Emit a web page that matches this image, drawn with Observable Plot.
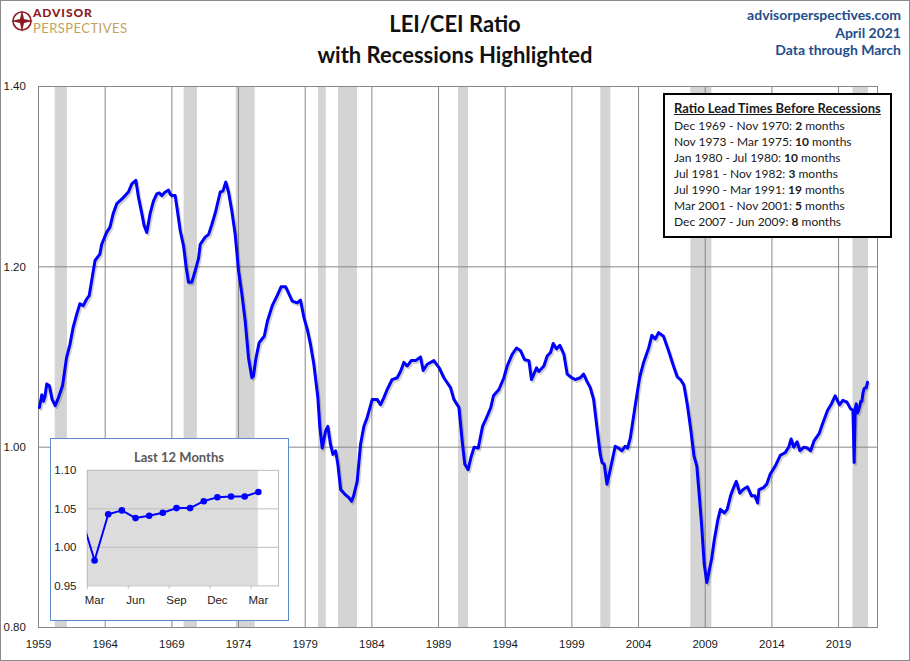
<!DOCTYPE html>
<html><head><meta charset="utf-8">
<script src="https://cdn.jsdelivr.net/npm/d3@7"></script>
<script src="https://cdn.jsdelivr.net/npm/@observablehq/plot@0.6"></script>
<style>
body{margin:0;background:#fff;}
#wrap{position:relative;width:910px;height:661px;overflow:hidden;font-family:Lato,"Open Sans",sans-serif;background:#fff;}
#frameBorder{position:absolute;left:0;top:0;width:910px;height:661px;box-sizing:border-box;border:1px solid #8c8c8c;pointer-events:none;z-index:20;}
#main{position:absolute;left:0;top:0;}
#title{position:absolute;left:0;width:910px;top:8px;text-align:center;font-weight:700;font-size:22px;line-height:31px;color:#111;}
#src{position:absolute;right:9px;top:6px;text-align:right;font-weight:700;font-size:14px;line-height:17.5px;color:#1f4e8c;}
#logoIcon{position:absolute;left:11px;top:10px;}
.la{position:absolute;left:33px;top:5px;font-weight:900;font-size:12px;line-height:15px;color:#8b1a22;letter-spacing:0.9px;white-space:nowrap;}
.lp{position:absolute;left:33px;top:20px;font-weight:400;font-size:13px;line-height:16px;color:#c3a15a;letter-spacing:0.45px;white-space:nowrap;}
#legend{position:absolute;left:663px;top:93px;width:229px;height:145px;box-sizing:border-box;border:2px solid #000;background:#fff;padding:4px 0 0 9px;font-size:12px;color:#1a1a1a;line-height:16px;z-index:5;}
#legend .h{font-weight:700;font-size:13px;text-decoration:underline;margin-bottom:1px;line-height:18px;}
#inset{position:absolute;left:50px;top:438px;width:239px;height:183px;box-sizing:border-box;border:1px solid #5b8ccb;background:#fff;z-index:5;}
#inset .t{position:absolute;left:0;width:100%;top:10px;text-align:center;font-weight:700;font-size:13px;color:#595959;padding-left:19px;box-sizing:border-box;}
#insetPlot{position:absolute;left:-1px;top:-1px;}
</style></head><body>
<div id="wrap">
  <div id="main"></div>
  <svg id="logoIcon" width="22" height="22" viewBox="0 0 22 22">
    <circle cx="11" cy="11" r="9" fill="none" stroke="#8b1a22" stroke-width="1.6"/>
    <polygon points="11,0 13,9 22,11 13,13 11,22 9,13 0,11 9,9" fill="#8b1a22"/>
  </svg>
  <div class="la">ADVISOR</div>
  <div class="lp">PERSPECTIVES</div>
  <div id="title">LEI/CEI Ratio<br>with Recessions Highlighted</div>
  <div id="src">advisorperspectives.com<br>April 2021<br>Data through March</div>
  <div id="legend"></div>
  <div id="inset"><div id="insetPlot"></div><div class="t">Last 12 Months</div></div>
  <div id="frameBorder"></div>
</div>
<script>
// ---------- data ----------
const years = [
1959.07,1959.25,1959.37,1959.48,1959.62,1959.82,1960.02,1960.25,1960.5,1960.8,
1961.1,1961.36,1961.6,1961.86,1962.1,1962.36,1962.6,1962.8,1962.98,1963.24,
1963.6,1963.74,1964.1,1964.36,1964.6,1964.87,1965.24,1965.5,1965.74,1966.0,
1966.3,1966.5,1966.75,1966.92,1967.12,1967.37,1967.62,1967.87,1968.05,1968.25,
1968.5,1968.75,1968.9,1969.0,1969.25,1969.38,1969.63,1969.88,1970.08,1970.25,
1970.5,1970.76,1971.0,1971.13,1971.5,1971.76,1972.0,1972.26,1972.63,1972.83,
1973.05,1973.25,1973.5,1973.75,1974.0,1974.25,1974.5,1974.75,1975.0,1975.12,
1975.3,1975.55,1975.93,1976.17,1976.53,1976.9,1977.2,1977.53,1978.03,1978.4,
1978.65,1978.9,1979.15,1979.4,1979.65,1979.95,1980.1,1980.28,1980.53,1980.7,
1980.9,1981.08,1981.28,1981.45,1981.66,1982.03,1982.28,1982.48,1982.65,1982.9,
1983.15,1983.4,1983.65,1984.03,1984.4,1984.65,1984.9,1985.15,1985.52,1985.9,
1986.15,1986.4,1986.65,1986.95,1987.28,1987.65,1987.85,1988.15,1988.65,1989.05,
1989.4,1989.9,1990.15,1990.53,1990.8,1990.97,1991.22,1991.42,1991.67,1991.98,
1992.3,1992.55,1992.92,1993.12,1993.53,1993.9,1994.15,1994.52,1994.85,1995.15,
1995.45,1995.78,1995.97,1996.35,1996.52,1996.9,1997.15,1997.4,1997.6,1997.85,
1998.1,1998.4,1998.65,1999.0,1999.25,1999.63,1999.88,2000.13,2000.38,2000.63,
2000.88,2001.13,2001.26,2001.43,2001.63,2001.88,2002.25,2002.5,2002.75,2003.0,
2003.18,2003.38,2003.76,2004.08,2004.38,2004.76,2005.0,2005.25,2005.5,2005.87,
2006.25,2006.62,2006.9,2007.15,2007.4,2007.66,2007.91,2008.16,2008.37,2008.54,
2008.72,2008.92,2009.12,2009.3,2009.48,2009.68,2009.94,2010.14,2010.44,2010.65,
2010.9,2011.07,2011.33,2011.59,2011.84,2012.17,2012.47,2012.73,2012.93,2013.03,
2013.36,2013.61,2013.87,2014.25,2014.63,2015.0,2015.26,2015.44,2015.64,2015.89,
2016.1,2016.4,2016.66,2016.91,2017.16,2017.54,2017.8,2018.18,2018.43,2018.74,
2019.07,2019.32,2019.63,2019.88,2020.08,2020.17,2020.25,2020.33,2020.42,2020.5,
2020.58,2020.67,2020.75,2020.83,2020.92,2021.0,2021.08,2021.17
];
const ratio = [
1.044,1.058,1.051,1.056,1.070,1.068,1.053,1.046,1.055,1.068,
1.099,1.114,1.133,1.147,1.159,1.157,1.164,1.168,1.184,1.207,
1.214,1.225,1.238,1.244,1.259,1.270,1.275,1.279,1.283,1.292,
1.296,1.277,1.259,1.246,1.238,1.259,1.273,1.281,1.282,1.279,
1.283,1.285,1.280,1.279,1.279,1.266,1.240,1.223,1.199,1.183,
1.183,1.196,1.209,1.225,1.233,1.236,1.247,1.260,1.283,1.284,
1.294,1.283,1.262,1.236,1.196,1.170,1.140,1.099,1.077,1.079,
1.098,1.116,1.123,1.140,1.157,1.168,1.178,1.178,1.162,1.160,
1.163,1.144,1.131,1.114,1.092,1.055,1.022,0.999,1.018,1.023,
1.003,0.992,0.996,0.981,0.953,0.947,0.944,0.940,0.947,0.962,
1.003,1.023,1.033,1.053,1.053,1.047,1.055,1.064,1.075,1.077,
1.084,1.094,1.090,1.096,1.096,1.100,1.085,1.092,1.096,1.088,
1.077,1.066,1.053,1.044,1.003,0.981,0.975,0.988,1.000,0.999,
1.023,1.031,1.044,1.057,1.064,1.077,1.090,1.103,1.110,1.107,
1.097,1.096,1.075,1.088,1.084,1.090,1.101,1.105,1.115,1.109,
1.113,1.103,1.081,1.077,1.075,1.077,1.081,1.073,1.066,1.053,
1.022,0.992,0.983,0.981,0.959,0.975,1.001,0.999,0.996,1.001,
0.999,1.010,1.047,1.077,1.094,1.110,1.124,1.120,1.127,1.123,
1.107,1.090,1.078,1.075,1.069,1.047,1.020,0.990,0.979,0.949,
0.916,0.871,0.850,0.863,0.876,0.897,0.919,0.931,0.927,0.931,
0.946,0.953,0.962,0.949,0.953,0.956,0.946,0.946,0.938,0.953,
0.955,0.959,0.970,0.979,0.991,0.994,1.000,1.009,1.000,1.006,
0.996,1.000,0.999,0.996,1.007,1.015,1.026,1.041,1.047,1.057,
1.047,1.052,1.050,1.043,1.041,0.983,1.043,1.048,1.038,1.041,
1.045,1.051,1.051,1.060,1.065,1.066,1.066,1.072
];
const recStart = [1960.25,1969.92,1973.83,1980.0,1981.5,1990.5,2001.17,2007.92,2020.08];
const recEnd   = [1961.17,1970.92,1975.25,1980.58,1982.92,1991.25,2001.92,2009.5,2021.25];
const xTicks = [1959,1964,1969,1974,1979,1984,1989,1994,1999,2004,2009,2014,2019];
const yTicks = [0.80,1.00,1.20,1.40];

const leadPeriods = ["Dec 1969 - Nov 1970","Nov 1973 - Mar 1975","Jan 1980 - Jul 1980","Jul 1981 - Nov 1982","Jul 1990 - Mar 1991","Mar 2001 - Nov 2001","Dec 2007 - Jun 2009"];
const leadMonths = [2,10,10,3,19,5,8];

const insetMonths = ["Feb","Mar","Apr","May","Jun","Jul","Aug","Sep","Oct","Nov","Dec","Jan","Feb","Mar"];
const insetValues = [1.041,0.983,1.043,1.048,1.038,1.041,1.045,1.051,1.051,1.060,1.065,1.066,1.066,1.072];
const insetTicks = [0.95,1.00,1.05,1.10];

// ---------- main chart ----------
const series = years.map((t,i)=>({t, v: ratio[i]}));
const recessions = recStart.map((s,i)=>({s, e: recEnd[i]}));
const tickFont = "'Liberation Sans', Arial, sans-serif";

const main = Plot.plot({
  width: 910, height: 661,
  marginLeft: 38, marginRight: 33, marginTop: 86, marginBottom: 34,
  x: {domain: [1959, 2021.92], axis: null},
  y: {domain: [0.8, 1.4], axis: null},
  style: {background: "transparent", fontFamily: tickFont, fontSize: "11.5px", color: "#1a1a1a"},
  marks: [
    Plot.rect(recessions, {x1: "s", x2: "e", fill: "#d4d4d4"}),
    Plot.ruleX(xTicks, {stroke: "#878787", strokeWidth: 1}),
    Plot.ruleY([1.0, 1.2], {stroke: "#878787", strokeWidth: 1}),
    Plot.frame({stroke: "#878787"}),
    Plot.line(series, {x: "t", y: "v", stroke: "#000", strokeOpacity: 0.18, strokeWidth: 3, dx: 1.5, dy: 2, strokeLinejoin: "round"}),
    Plot.line(series, {x: "t", y: "v", stroke: "#0000ff", strokeWidth: 3, strokeLinejoin: "round"}),
    Plot.text(xTicks, {x: d => d, frameAnchor: "bottom", dy: 20, text: d => String(d), fill: "#1a1a1a"}),
    Plot.text(yTicks, {y: d => d, frameAnchor: "left", dx: -35, textAnchor: "start", text: d => d.toFixed(2), fill: "#1a1a1a"})
  ]
});
document.getElementById("main").appendChild(main);

// ---------- legend box ----------
const lg = document.getElementById("legend");
lg.innerHTML = '<div class="h">Ratio Lead Times Before Recessions</div>' +
  leadPeriods.map((p,i)=>`<div>${p}: <b>${leadMonths[i]}</b> months</div>`).join("");

// ---------- inset ----------
const insetData = insetValues.map((v,i)=>({i: i-1, v, m: insetMonths[i]}));
const labelIdx = [0,3,6,9,12];
const shade = [{a: -0.53, b: 12}];
const inset = Plot.plot({
  width: 239, height: 183,
  marginLeft: 37, marginRight: 10, marginTop: 32, marginBottom: 35,
  x: {domain: [-0.53, 13.48], axis: null},
  y: {domain: [0.95, 1.10], axis: null},
  style: {background: "transparent", fontFamily: tickFont, fontSize: "11.5px"},
  marks: [
    Plot.rect(shade, {x1: "a", x2: "b", fill: "#dcdcdc"}),
    Plot.ruleY([1.00, 1.05], {stroke: "#bdbdbd"}),
    Plot.frame({stroke: "#bdbdbd"}),
    Plot.ruleX(labelIdx, {x: d => d - 0.53, y1: () => 0.95, y2: () => 0.9455, stroke: "#bdbdbd"}),
    Plot.line(insetData, {x: "i", y: "v", stroke: "#0000ff", strokeWidth: 2, clip: true}),
    Plot.dot(insetData.filter(d => d.i >= 0), {x: "i", y: "v", r: 3.3, fill: "#0000ff"}),
    Plot.text(labelIdx, {x: d => d, frameAnchor: "bottom", dy: 18, text: d => insetMonths[d+1], fill: "#1a1a1a"}),
    Plot.text(insetTicks, {y: d => d, frameAnchor: "left", dx: -11, textAnchor: "end", text: d => d.toFixed(2), fill: "#1a1a1a"})
  ]
});
document.getElementById("insetPlot").appendChild(inset);
</script>
</body></html>
